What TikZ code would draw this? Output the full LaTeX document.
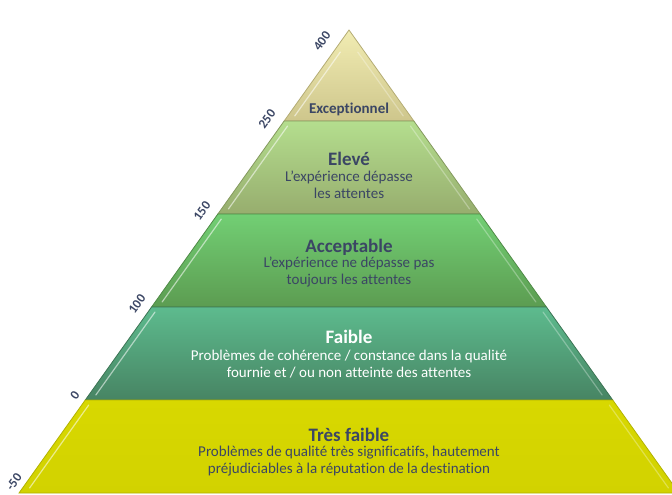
\documentclass[tikz,border=0pt]{standalone}
\usepackage{fontspec}
\setmainfont[Ligatures=NoCommon]{Carlito}
\definecolor{txt}{HTML}{3B4664}
\definecolor{excT}{HTML}{F1ECB2}
\definecolor{excB}{HTML}{CEC68C}
\definecolor{excD}{HTML}{B4AC74}
\definecolor{eleT}{HTML}{B4DE8E}
\definecolor{eleB}{HTML}{97AD6E}
\definecolor{eleD}{HTML}{84995E}
\definecolor{accT}{HTML}{72CF74}
\definecolor{accB}{HTML}{5C9C51}
\definecolor{accD}{HTML}{4F8A46}
\definecolor{faiT}{HTML}{5DBB8E}
\definecolor{faiB}{HTML}{478463}
\definecolor{faiD}{HTML}{3C7454}
\definecolor{trfT}{HTML}{D8D800}
\definecolor{trfB}{HTML}{D2D200}
\definecolor{trfD}{HTML}{B2B200}
\begin{document}
\begin{tikzpicture}[x=1pt,y=-1pt,
  title/.style={font=\bfseries\fontsize{19}{21}\selectfont, text=txt, anchor=base, inner sep=0pt},
  desc/.style={font=\fontsize{15}{16.5}\selectfont, text=txt, align=center, anchor=base, inner sep=0pt},
  num/.style={font=\bfseries\fontsize{13}{14}\selectfont, text=txt, rotate=54, inner sep=0pt}]
\useasboundingbox (0,0) rectangle (672,495);
\clip (0,0) rectangle (672,495);
\foreach \ya/\yb/\ct/\cb/\cd in {30/121/excT/excB/excD, 121/214/eleT/eleB/eleD, 214/307/accT/accB/accD, 307/400/faiT/faiB/faiD, 400/493/trfT/trfB/trfD} {
  \pgfmathsetmacro\wa{0.7127*(\ya-30)}
  \pgfmathsetmacro\wb{0.7127*(\yb-30)}
  \path[top color=\ct, bottom color=\cb, draw=\cd, line width=0.8pt]
    ({349-\wa},\ya) -- ({349+\wa},\ya) -- ({349+\wb},\yb) -- ({349-\wb},\yb) -- cycle;
  \pgfmathsetmacro\yc{max(\ya+5,52)}
  \pgfmathsetmacro\wc{0.7127*(\yc-30)}
  \pgfmathsetmacro\yd{\yb-5}
  \pgfmathsetmacro\wd{0.7127*(\yd-30)}
  \draw[white, opacity=0.55, line width=1.2pt, line cap=round]
    ({349-\wd+7},\yd) -- ({349-\wc+7},\yc);
  \draw[white, opacity=0.3, line width=1.2pt, line cap=round]
    ({349+\wd-7},\yd) -- ({349+\wc-7},\yc);
}
% level labels
\node[title, font=\bfseries\fontsize{15}{17}\selectfont] (exc) at (349,113) {Exceptionnel};
\node[title] (ele) at (349,165) {Elevé};
\node[desc] (eled) at (349,198) {L’expérience dépasse\\les attentes};
\node[title] (acc) at (349,252) {Acceptable};
\node[desc] (accd) at (349,284) {L’expérience ne dépasse pas\\toujours les attentes};
\node[title, text=white] (fai) at (349,343) {Faible};
\node[desc, text=white, font=\fontsize{15}{17}\selectfont] (faid) at (349,377) {Problèmes de cohérence / constance dans la qualité\\fournie et / ou non atteinte des attentes};
\node[title] (trf) at (349,441) {Très faible};
\node[desc] (trfd) at (349,473) {Problèmes de qualité très significatifs, hautement\\préjudiciables à la réputation de la destination};
% scale numbers
\node[num] (n400) at (322,41) {400};
\node[num] (n250) at (267,119) {250};
\node[num] (n150) at (202,211) {150};
\node[num] (n100) at (137,304) {100};
\node[num] (n0) at (75,395) {0};
\node[num] (n50) at (14,482) {-50};
\end{tikzpicture}
\end{document}
